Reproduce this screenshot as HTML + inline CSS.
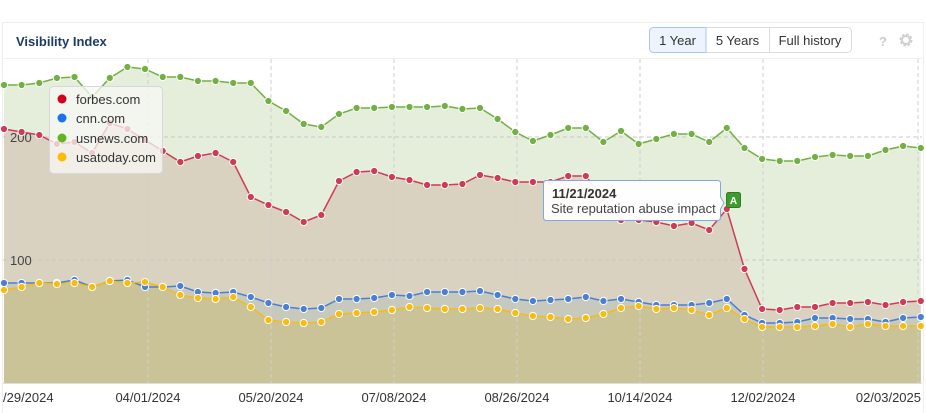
<!DOCTYPE html>
<html><head><meta charset="utf-8"><style>
body{margin:0;background:#fff;font-family:"Liberation Sans",sans-serif;}
.wrap{position:relative;width:926px;height:413px;overflow:hidden;background:#fff;}
</style></head><body><div class="wrap">
<svg width="926" height="413" xmlns="http://www.w3.org/2000/svg" id="s" style="position:absolute;left:0;top:0"></svg>
</div>
<script>
const G=[85,85,83,78,77,97,78,67,69,77,77,81,81,83,83,101,111,124,127,114,108,108,107,107,107,106,109,108,119,132,141,135,128,128,142,131,144,139,134,134,142,128,148,159,161,161,157,155,156,156,150,146,148];
const R=[129,132,135,144,142,153,123,129,140,151,162,156,153,162,197,205,212,222,215,181,172,171,177,180,185,185,184,175,178,182,182,182,176,176,198,220,220,222,226,223,230,209,269,309,310,307,307,303,303,302,305,302,301];
const B=[283,283,283,283,280,287,281,280,287,287,286,292,293,292,297,303,307,309,308,299,299,298,295,296,292,292,292,291,295,299,301,300,299,297,301,299,302,305,305,305,303,299,315,323,323,322,318,318,319,319,322,318,317];
const Y=[290,287,283,284,283,287,281,283,282,287,295,298,299,297,307,320,322,323,322,314,313,312,310,307,308,309,309,308,309,313,316,317,319,318,314,308,306,309,308,310,315,308,319,327,327,327,326,324,327,324,326,326,326];
const X=k=>4+17.63*k;
const BOT=383;
let s='';
s+='<rect x="2" y="0" width="923" height="413" fill="#fff"/>';
s+='<rect x="2.5" y="22.5" width="921" height="400" fill="none" stroke="#eee"/>';
s+='<line x1="3" y1="58.5" x2="922" y2="58.5" stroke="#f0f0f0"/>';
function area(a,c){let d='M'+X(0)+','+BOT;a.forEach((v,i)=>d+=' L'+X(i).toFixed(1)+','+v);d+=' L'+X(a.length-1)+','+BOT+' Z';return '<path d="'+d+'" fill="'+c+'"/>';}
s+='<rect x="3" y="59" width="919" height="324" fill="#fff"/>';
s+=area(G,'#e4eedb');
s+=area(R,'#d9d2c0');
s+=area(B,'#c8c9bd');
s+=area(Y,'#cbc398');
[148,271,394,517,640,763,918].forEach(x=>s+='<line x1="'+x+'" y1="59" x2="'+x+'" y2="383" stroke="#cfcfcf" stroke-dasharray="4,3"/>');
[137,260].forEach(y=>s+='<line x1="3" y1="'+y+'" x2="922" y2="'+y+'" stroke="#c8c8c8" stroke-dasharray="4,3"/>');
s+='<text x="10" y="265" font-size="13" fill="#444">100</text>';
s+='<text x="10" y="142" font-size="13" fill="#444">200</text>';
s+='<line x1="3" y1="383.5" x2="922" y2="383.5" stroke="#ddd"/>';
function line(a,c){let d='';a.forEach((v,i)=>d+=(i?' L':'M')+X(i).toFixed(1)+','+v);let o='<path d="'+d+'" fill="none" stroke="'+c+'" stroke-width="1.5"/>';a.forEach((v,i)=>o+='<circle cx="'+X(i).toFixed(1)+'" cy="'+v+'" r="3.6" fill="'+c+'" stroke="#fff" stroke-width="1"/>');return o;}
s+=line(G,'#72b043');
s+=line(R,'#cf3a55');
s+=line(B,'#4a7fd4');
s+=line(Y,'#f8bb10');
const L=[["/29/2024",3,"start"],["04/01/2024",148,"middle"],["05/20/2024",271,"middle"],["07/08/2024",394,"middle"],["08/26/2024",517,"middle"],["10/14/2024",640,"middle"],["12/02/2024",763,"middle"],["02/03/2025",921,"end"]];
L.forEach(l=>s+='<text x="'+l[1]+'" y="402" font-size="13" fill="#333" text-anchor="'+l[2]+'">'+l[0]+'</text>');
s+='<text x="16" y="46" font-size="13" font-weight="bold" fill="#1d3b66">Visibility Index</text>';
s+='<rect x="649.5" y="27.5" width="202" height="25" rx="4" fill="#fff" stroke="#dcdcdc"/>';
s+='<path d="M653.5,27.5 H706 V52.5 H653.5 A4,4 0 0 1 649.5,48.5 V31.5 A4,4 0 0 1 653.5,27.5Z" fill="#edf4fd" stroke="#a9c8ee"/>';
s+='<line x1="769.5" y1="28" x2="769.5" y2="52" stroke="#dcdcdc"/>';
s+='<text x="677.5" y="45" font-size="13" fill="#333" text-anchor="middle">1 Year</text>';
s+='<text x="737.5" y="45" font-size="13" fill="#333" text-anchor="middle">5 Years</text>';
s+='<text x="810" y="45" font-size="13" fill="#333" text-anchor="middle">Full history</text>';
s+='<text x="883" y="46" font-size="13" font-weight="bold" fill="#ccc" text-anchor="middle">?</text>';
s+='<circle cx="906" cy="40" r="5" fill="none" stroke="#d0d0d0" stroke-width="3" stroke-dasharray="2.5,1.4"/><circle cx="906" cy="40" r="4" fill="none" stroke="#d0d0d0" stroke-width="2"/>';
s+='<rect x="49.5" y="86.5" width="113" height="87" rx="4" fill="rgba(248,248,246,0.75)" stroke="#d8d8d8"/>';
[["forbes.com","#d0021b",99],["cnn.com","#1a73e8",118],["usnews.com","#63b51f",138],["usatoday.com","#ffb900",157]].forEach(l=>{s+='<circle cx="62" cy="'+l[2]+'" r="4.5" fill="'+l[1]+'"/><text x="76" y="'+(l[2]+5)+'" font-size="13" fill="#333">'+l[0]+'</text>';});
s+='<path d="M546.5,180.5 H717.5 Q720.5,180.5 720.5,183.5 V197 L724,203 L720.5,209 V217.5 Q720.5,220.5 717.5,220.5 H546.5 Q543.5,220.5 543.5,217.5 V183.5 Q543.5,180.5 546.5,180.5Z" fill="rgba(255,255,255,0.93)" stroke="#7fa9dc"/>';
s+='<text x="552" y="198" font-size="13" font-weight="bold" fill="#333">11/21/2024</text>';
s+='<text x="551" y="213" font-size="13" fill="#444">Site reputation abuse impact</text>';
s+='<rect x="726.5" y="192.5" width="14" height="15" rx="2" fill="#3f9a2f" stroke="#2e7d22"/><text x="733.5" y="204" font-size="10" font-weight="bold" fill="#fff" text-anchor="middle">A</text>';
document.getElementById('s').innerHTML=s;
</script>
</body></html>
